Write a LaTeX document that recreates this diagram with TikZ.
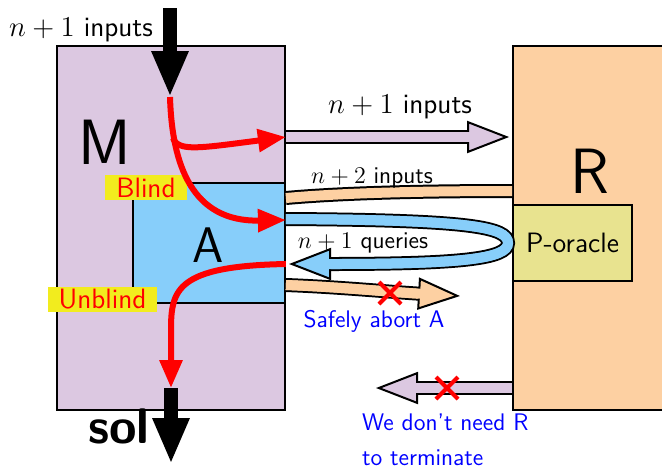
\documentclass[tikz,border=0pt]{standalone}
\usepackage{tikz}
\usetikzlibrary{arrows.meta,positioning}
\renewcommand{\familydefault}{\sfdefault}
\definecolor{m_lilac}{RGB}{220,200,225}
\definecolor{a_blue}{RGB}{135,206,250}
\definecolor{r_peach}{RGB}{253,208,162}
\definecolor{p_khaki}{RGB}{232,227,143}
\definecolor{tag_yellow}{RGB}{242,236,30}

\tikzset{
  box/.style={draw=black, line width=0.9pt, inner sep=0pt},
  flow/.style={draw=red, line width=3pt, -{Triangle[length=14pt,width=11pt]}},
  fat/.style={draw=black, line width=7pt, -{Triangle[length=23pt,width=17pt]}},
  hollow/.style={draw=#1, line width=5pt,
    -{Triangle[length=21pt,width=16pt,fill=#1,color=black,line width=1pt]},
    preaction={draw=black, line width=7pt, arrows=-, shorten >=19pt},
    postaction={draw=#1, line width=5pt, arrows=-, shorten >=19.5pt}},
  band/.style={draw=black, line width=7pt, postaction={draw=#1, line width=5pt}},
  tag/.style={fill=tag_yellow, text=red, font=\fontsize{14}{16}\selectfont,
    inner xsep=5.5pt, inner ysep=0pt, minimum height=12.5pt},
  note/.style={text=blue, font=\fontsize{12}{17.5}\selectfont},
  cross/.style={draw=red, line width=2pt}
}

\begin{document}
\begin{tikzpicture}[x=0.5pt, y=-0.5pt]
  \useasboundingbox (0,0) rectangle (662,468);
  \clip (0,0) rectangle (662,468);

  % the boxes
  \node[box, fill=m_lilac, minimum width=114pt, minimum height=182pt] (M) at (171,228) {};
  \node[box, fill=a_blue, minimum width=76pt, minimum height=60pt] (A) at (209,243) {};
  \node[box, fill=r_peach, minimum width=80pt, minimum height=182pt] (R) at (593,228) {};
  \node[box, fill=p_khaki, minimum width=59.5pt, minimum height=38pt,
    font=\fontsize{14}{16}\selectfont] (P) at (572.5,243) {P-oracle};

  \node[font=\fontsize{32}{36}\selectfont] (labM) at (105,142) {M};
  \node[font=\fontsize{25}{30}\selectfont] (labA) at (208,245) {A};
  \node[font=\fontsize{32}{36}\selectfont] (labR) at (590,171) {R};

  \node[tag] (blind) at (146,187.5) {Blind};
  \node[tag] (unblind) at (102.5,299) {Unblind};

  % input and output of M
  \coordinate (feed) at (170,8);
  \coordinate (split) at (170,97);
  \coordinate (gate) at (171,388);
  \coordinate (out) at (171,464);
  \draw[fat] (feed) -- (split);
  \node[font=\fontsize{14}{16}\selectfont] (topin) at (81,30) {$n+1$ inputs};
  \draw[fat] (gate) -- (out);
  \node[font=\fontsize{25}{30}\selectfont\bfseries, anchor=base] (sol) at (119,443) {sol};

  % red flows inside M
  \draw[flow] (split) .. controls (172,165) and (192,222) .. (A.east |- 0,220);
  \draw[flow] (173,138) .. controls (178,152) and (200,148) .. (M.east |- 0,137);
  \draw[flow] (A.east |- 0,264) .. controls (176,266) and (171,290) .. (171,330) -- (gate);

  % between M and R
  \draw[hollow=m_lilac] (M.east |- 0,137) -- ([xshift=-1.5pt]R.west |- 0,137);
  \node[font=\fontsize{14}{16}\selectfont] (midin) at (400,107) {$n+1$ inputs};

  \draw[band=r_peach] (R.west |- 0,191) .. controls (400,191) and (330,194) .. (A.east |- 0,198);
  \node[font=\fontsize{12}{14}\selectfont] (twoin) at (372,178) {$n+2$ inputs};

  \coordinate (qend) at (289,264);
  \draw[hollow=a_blue] (A.east |- 0,219) .. controls (470,220) and (508,227) .. (508,243)
    .. controls (508,259) and (460,264) .. (qend);
  \node[font=\fontsize{12}{14}\selectfont] (query) at (363,243) {$n+1$ queries};

  \coordinate (abort) at (460,296);
  \draw[hollow=r_peach] (A.east |- 0,285) .. controls (340,287) and (390,292) .. (abort);
  \draw[cross] (390,293) +(-11,-11) -- +(11,11) +(-11,11) -- +(11,-11);
  \node[note] (safe) at (374,321) {Safely abort A};

  \coordinate (back) at (376,388);
  \draw[hollow=m_lilac] (R.west |- 0,388) -- (back);
  \draw[cross] (447,388) +(-11,-11) -- +(11,11) +(-11,11) -- +(11,-11);
  \node[note, align=left, anchor=west] (norun) at (355,440) {We don't need R\\to terminate};
\end{tikzpicture}
\end{document}
